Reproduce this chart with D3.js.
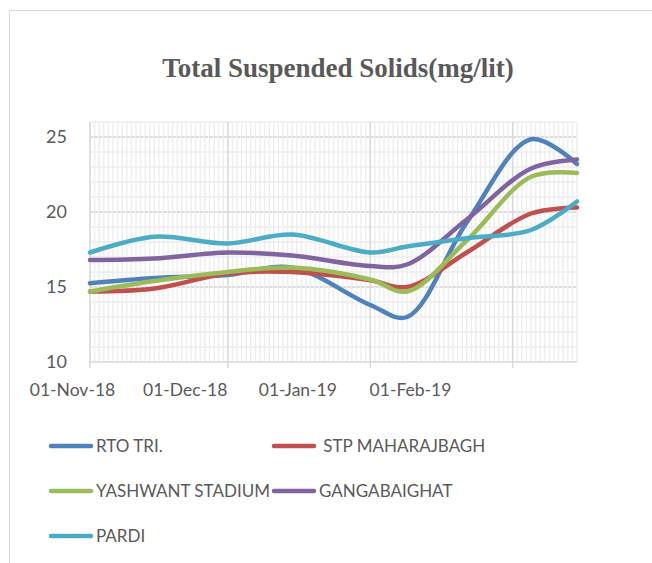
<!DOCTYPE html>
<html>
<head>
<meta charset="utf-8">
<script src="https://cdn.jsdelivr.net/npm/d3@7"></script>
<style>
  body { margin: 0; background: #fff; }
  svg { display: block; }
  text { font-family: Lato, "Open Sans", sans-serif; fill: #595959; }
</style>
</head>
<body>
<div class="container"></div>
<script>
// sample dates and readings (mg/lit)
const dates = ["2018-11-01", "2018-11-15", "2018-12-01", "2018-12-15", "2019-01-01", "2019-01-09", "2019-01-22", "2019-02-05", "2019-02-15"];
const rtoTri = [15.25, 15.6, 15.8, 16.3, 13.8, 13.0, 19.3, 24.85, 23.2];
const stpMaharajbagh = [14.7, 14.9, 15.9, 16.0, 15.45, 15.0, 17.3, 19.9, 20.3];
const yashwantStadium = [14.7, 15.4, 16.0, 16.3, 15.5, 14.7, 18.1, 22.35, 22.6];
const gangabaighat = [16.8, 16.9, 17.3, 17.1, 16.4, 16.5, 19.5, 22.9, 23.5];
const pardi = [17.3, 18.35, 17.9, 18.5, 17.3, 17.7, 18.25, 18.8, 20.7];

const seriesNames = ["RTO TRI.", " STP MAHARAJBAGH", "YASHWANT STADIUM", "GANGABAIGHAT", "PARDI"];
const seriesColors = ["#4F81BD", "#C0504D", "#9BBB59", "#8064A2", "#4BACC6"];
const xTickLabels = ["01-Nov-18", "01-Dec-18", "01-Jan-19", "01-Feb-19"];
const yTicks = [10, 15, 20, 25];

const width = 652, height = 563;
const parse = d3.timeParse("%Y-%m-%d");
const dateValues = dates.map(parse);
const allSeries = [rtoTri, stpMaharajbagh, yashwantStadium, gangabaighat, pardi];

const svg = d3.select(".container")
    .append("svg")
    .attr("width", width)
    .attr("height", height);

// chart area border (only top and left visible in the crop)
svg.append("rect")
    .attr("x", 9.5).attr("y", 10.5)
    .attr("width", 700).attr("height", 600)
    .attr("fill", "none")
    .attr("stroke", "#d9d9d9");

svg.append("text")
    .attr("x", 338).attr("y", 77)
    .attr("text-anchor", "middle")
    .style("font-family", "'Liberation Serif', 'Times New Roman', serif")
    .style("font-weight", "bold")
    .style("font-size", "27px")
    .text("Total Suspended Solids(mg/lit)");

const x = d3.scaleTime()
    .domain([parse("2018-11-01"), parse("2019-02-15")])
    .range([90, 577]);
const y = d3.scaleLinear()
    .domain([10, 26])
    .range([362, 122]);

const grid = svg.append("g");

// minor grid: each day, each unit
grid.append("g")
    .selectAll("line")
    .data(d3.timeDay.range(x.domain()[0], d3.timeDay.offset(x.domain()[1], 1)))
    .join("line")
    .attr("x1", d => x(d)).attr("x2", d => x(d))
    .attr("y1", y(26)).attr("y2", y(10))
    .attr("stroke", "#eeeeee")
    .attr("stroke-width", 1.5);

grid.append("g")
    .selectAll("line")
    .data(d3.range(11, 27))
    .join("line")
    .attr("x1", 90).attr("x2", 577)
    .attr("y1", d => y(d)).attr("y2", d => y(d))
    .attr("stroke", "#ececec")
    .attr("stroke-width", 1.5);

// major grid
grid.append("g")
    .selectAll("line")
    .data(yTicks.slice(1))
    .join("line")
    .attr("x1", 90).attr("x2", 577)
    .attr("y1", d => y(d)).attr("y2", d => y(d))
    .attr("stroke", "#d6d6d6")
    .attr("stroke-dasharray", "3,1.6")
    .attr("stroke-width", 1.5);

grid.append("g")
    .selectAll("line")
    .data(d3.timeMonth.range(x.domain()[0], x.domain()[1]))
    .join("line")
    .attr("x1", d => x(d)).attr("x2", d => x(d))
    .attr("y1", y(26)).attr("y2", y(10) + 6)
    .attr("stroke", "#d9d9d9")
    .attr("stroke-width", 1.5);

// x axis line
svg.append("line")
    .attr("x1", 90).attr("x2", 577)
    .attr("y1", y(10)).attr("y2", y(10))
    .attr("stroke", "#d9d9d9")
    .attr("stroke-width", 1.5);

// y axis labels
const yAxis = svg.append("g")
    .attr("transform", "translate(90,0)")
    .call(d3.axisLeft(y).tickValues(yTicks).tickSize(0).tickPadding(23));
yAxis.select(".domain").remove();
yAxis.selectAll("text")
    .style("font-size", "18px")
    .attr("fill", "#595959");

// x axis labels (placed as in the original picture)
const xLabel = d3.scalePoint()
    .domain(xTickLabels)
    .range([72, 410]);
const xAxis = svg.append("g")
    .attr("transform", `translate(0,${y(10)})`)
    .call(d3.axisBottom(xLabel).tickSize(0).tickPadding(22));
xAxis.select(".domain").remove();
xAxis.selectAll("text")
    .style("font-size", "17.5px")
    .attr("fill", "#595959");

// lines
const line = d3.line()
    .x(d => x(d.date))
    .y(d => y(d.value))
    .curve(d3.curveCatmullRom);

svg.append("g")
    .selectAll("path")
    .data(allSeries.map((vals, i) => ({
        name: seriesNames[i],
        color: seriesColors[i],
        points: vals.map((v, j) => ({ date: dateValues[j], value: v }))
    })))
    .join("path")
    .attr("d", d => line(d.points))
    .attr("fill", "none")
    .attr("stroke", d => d.color)
    .attr("stroke-width", 4.5)
    .attr("stroke-linecap", "round");

// legend
const legendPos = [[49, 446], [272, 446], [49, 491], [272, 491], [49, 536]];
const legend = svg.append("g")
    .selectAll("g")
    .data(seriesNames)
    .join("g")
    .attr("transform", (d, i) => `translate(${legendPos[i][0]},${legendPos[i][1]})`);

legend.append("line")
    .attr("x1", 2).attr("x2", 42)
    .attr("y1", 0).attr("y2", 0)
    .attr("stroke", (d, i) => seriesColors[i])
    .attr("stroke-width", 4.5)
    .attr("stroke-linecap", "round");

legend.append("text")
    .attr("x", 47)
    .attr("y", 6)
    .style("font-size", "17px")
    .style("white-space", "pre")
    .text(d => d);
</script>
</body>
</html>
